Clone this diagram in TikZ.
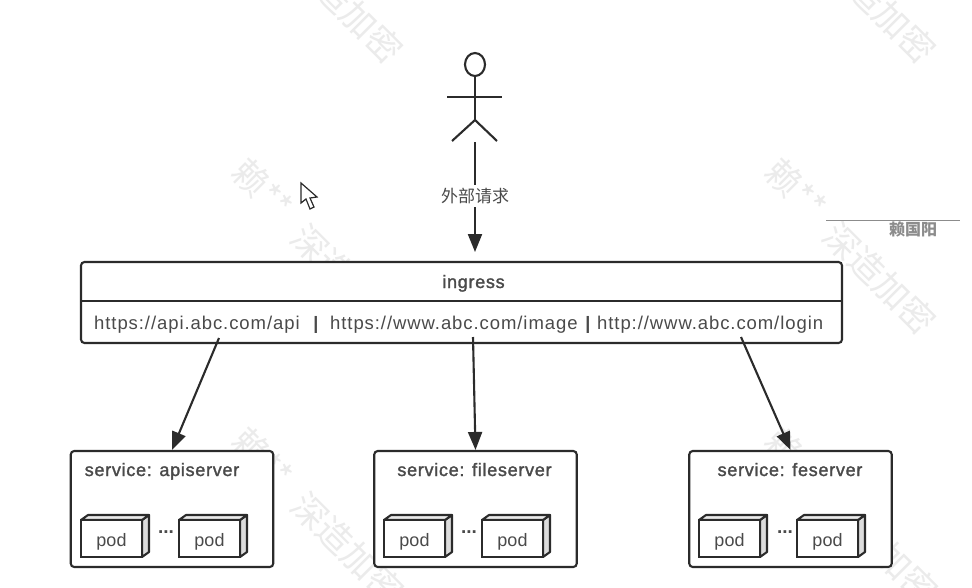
\documentclass[tikz,border=0pt]{standalone}
\usepackage{fontspec}
\setmainfont{Liberation Sans}
\newfontfamily\bodyfont[LetterSpace=5]{Liberation Sans}
\newfontfamily\medfont[FakeBold=1.6,LetterSpace=4]{Liberation Sans}
\newfontfamily\cjk{Noto Sans CJK SC}
\usetikzlibrary{arrows.meta}
\definecolor{ink}{HTML}{2B2B2B}
\definecolor{txt}{HTML}{4A4A4A}
\definecolor{mark}{HTML}{EBEBEB}
\definecolor{podside}{HTML}{DCDCDC}
\tikzset{
  x=1pt,y=-1pt,
  line/.style={draw=ink,line width=2.1pt},
  boxed/.style={draw=ink,line width=2.1pt,rounded corners=3.5pt,fill=white},
  conn/.style={draw=ink,line width=2.1pt,-{Triangle[length=18pt,width=14pt]}},
  label/.style={text=txt,font=\bodyfont\fontsize{18.5}{20}\selectfont,inner sep=0pt},
  titlelabel/.style={text=txt,font=\medfont\fontsize{18}{20}\selectfont,inner sep=0pt},
  wmname/.style={text=mark,rotate=-45,inner sep=0pt,font=\cjk\fontsize{35}{38}\selectfont},
  wmtext/.style={text=mark,rotate=-45,inner sep=0pt,font=\cjk\fontsize{35}{38}\selectfont},
  svc/.style={boxed,minimum width=202.5pt,minimum height=116pt,inner sep=0pt},
  dotsl/.style={label,font=\bfseries\fontsize{19}{20}\selectfont},
}
\newcommand{\podbox}[3]{% name, x, y of front top-left
  \filldraw[line,fill=podside,line join=round] (#2+61,#3) -- (#2+68,#3-5) -- (#2+68,#3+32) -- (#2+61,#3+37) -- cycle;
  \filldraw[line,fill=podside!60!white,line join=round] (#2,#3) -- (#2+7,#3-5) -- (#2+68,#3-5) -- (#2+61,#3) -- cycle;
  \node[line,fill=white,anchor=center,minimum width=61pt,minimum height=37pt,inner sep=0pt,text=txt,font=\fontsize{18}{20}\selectfont] (#1) at (#2+30.5,#3+18.5) {\raisebox{0pt}[15pt][0pt]{pod}};
}
\begin{document}
\begin{tikzpicture}
\useasboundingbox (0,0) rectangle (972,587);
\fill[white] (0,0) rectangle (972,587);
% watermarks
\begin{scope}
\clip (0,0) rectangle (972,587);
\node[wmtext] (w1) at (347,7) {深造加密};
\node[wmtext] (w2) at (880,7) {深造加密};
\node[wmname] (w3) at (263,189) {赖**};
\node[wmname] (w4) at (796,189) {赖**};
\node[wmtext] (w5) at (348,280) {深造加密};
\node[wmtext] (w6) at (880,278) {深造加密};
\node[wmname] (w7) at (263,458) {赖**};
\node[wmname] (w8) at (796,458) {赖**};
\node[wmtext] (w9) at (348,548) {深造加密};
\node[wmtext] (w10) at (882,548) {深造加密};
\end{scope}
% stray caption at right
\coordinate (capL) at (826,220);
\coordinate (capR) at (960,220);
\draw[draw=black!45,line width=0.8pt] (capL) -- (capR);
\node[inner sep=0pt,text=black!45,font=\cjk\bfseries\fontsize{16}{18}\selectfont] (cap) at (913,229) {赖国阳};
% cursor
\filldraw[draw=ink,fill=white,line width=1.2pt,line join=miter] (301,183) -- (301,203) -- (306,199) -- (310,209) -- (314,207) -- (310,198) -- (317,197) -- cycle;
% actor
\draw[line] (475,64.5) ellipse (10 and 11.5);
\draw[line] (475,76) -- (475,120);
\draw[line] (447,97) -- (502,97);
\draw[line] (452,141) -- (475,120) -- (497,141);
\coordinate (feet) at (475,142);
\coordinate (actorIn) at (475,252);
\draw[conn] (feet) -- (actorIn);
\node[label,fill=white,inner xsep=1pt,inner ysep=3pt,font=\cjk\fontsize{17}{20}\selectfont] (req) at (475,196) {外部请求};
% ingress
\node[boxed,anchor=center,minimum width=761pt,minimum height=81pt,inner sep=0pt] (ingress) at (461.5,302.5) {};
\coordinate (divL) at (81,301);
\coordinate (divR) at (842,301);
\draw[line] (divL) -- (divR);
\node[titlelabel,anchor=base] (ingtitle) at (473.5,288) {ingress};
\node[label,anchor=base west] (u1) at (94,329) {https://api.abc.com/api};
\node[label,anchor=base,font=\bfseries\fontsize{18}{20}\selectfont] (s1) at (316,329) {|};
\node[label,anchor=base west] (u2) at (330,329) {https://www.abc.com/image};
\node[label,anchor=base,font=\bfseries\fontsize{18}{20}\selectfont] (s2) at (588,329) {|};
\node[label,anchor=base west] (u3) at (597,329) {http://www.abc.com/login};
% services
\node[svc,anchor=center] (sa) at (172,509) {};
\node[svc,anchor=center] (sb) at (475.5,509) {};
\node[svc,anchor=center] (sc) at (790.5,509) {};
\node[titlelabel,anchor=base] (ta) at (162,476) {service: apiserver};
\node[titlelabel,anchor=base] (tb) at (474.5,476) {service: fileserver};
\node[titlelabel,anchor=base] (tc) at (790,476) {service: feserver};
\podbox{pa1}{81}{520}
\podbox{pa2}{179}{520}
\podbox{pb1}{384}{520}
\podbox{pb2}{482}{520}
\podbox{pc1}{699}{520}
\podbox{pc2}{797}{520}
\node[dotsl] (da) at (166,532) {...};
\node[dotsl] (db) at (469,532) {...};
\node[dotsl] (dc) at (785,532) {...};
% connectors
\coordinate (o1) at (219,338);
\coordinate (o2) at (473,337);
\coordinate (o3) at (741,337);
\draw[conn] (o1) -- (sa.north);
\draw[conn] (o2) -- (sb.north);
\draw[conn] (o3) -- (sc.north);
\end{tikzpicture}
\end{document}
